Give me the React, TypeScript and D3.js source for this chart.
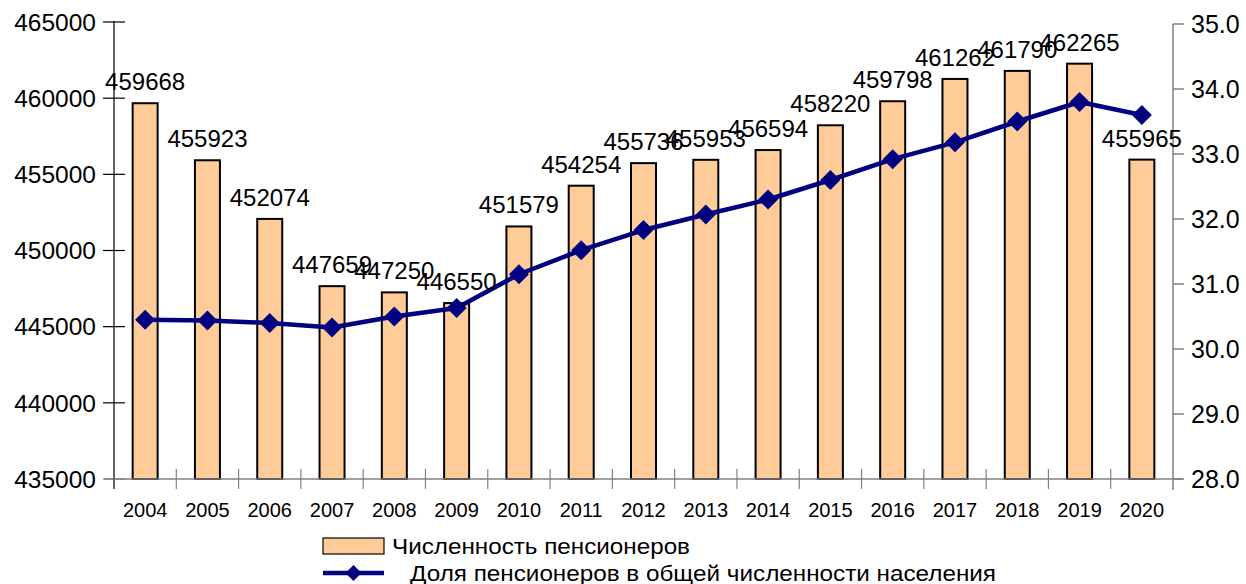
import React from 'react';
import * as d3 from 'd3';

// годы
const years = ['2004', '2005', '2006', '2007', '2008', '2009', '2010', '2011', '2012', '2013', '2014', '2015', '2016', '2017', '2018', '2019', '2020'];
// численность пенсионеров, чел.
const pensioners = [459668, 455923, 452074, 447659, 447250, 446550, 451579, 454254, 455736, 455953, 456594, 458220, 459798, 461262, 461790, 462265, 455965];
// доля пенсионеров в общей численности населения, %
const share = [30.45, 30.44, 30.4, 30.33, 30.5, 30.63, 31.15, 31.52, 31.83, 32.07, 32.3, 32.6, 32.92, 33.18, 33.5, 33.8, 33.6];

const leftTicks = [435000, 440000, 445000, 450000, 455000, 460000, 465000];
const rightTicks = [28, 29, 30, 31, 32, 33, 34, 35];

const barLabel = 'Численность пенсионеров';
const lineLabel = 'Доля пенсионеров в общей численности населения';

const W = 1246;
const H = 584;
const left = 114;
const right = 1173;
const top = 24;
const bottom = 479;
const font = '"Liberation Sans", Arial, sans-serif';

const App = () => {
    const x = d3.scaleBand().domain(years).range([left, right]).paddingInner(0).paddingOuter(0);
    const yL = d3.scaleLinear().domain([435000, 465000]).range([bottom, top - 2]);
    const yR = d3.scaleLinear().domain([28, 35]).range([bottom, top]);
    const barW = 25;
    const cx = (d: string) => (x(d) as number) + x.bandwidth() / 2;

    const line = d3.line<number>()
        .x((_, i) => cx(years[i]))
        .y(d => yR(d));

    const diamond = (px: number, py: number, r: number) =>
        `M${px},${py - r}L${px + r},${py}L${px},${py + r}L${px - r},${py}Z`;

    return (
        <div style={{ position: 'absolute', left: 0, top: 0 }}>
            <svg width={W} height={H} style={{ display: 'block', fontFamily: font }}>
                <rect width={W} height={H} fill="#fff" />

                {/* столбцы */}
                {pensioners.map((v, i) => (
                    <rect key={years[i]} x={cx(years[i]) - barW / 2} y={yL(v)} width={barW} height={bottom - yL(v)}
                        fill="#FFCC99" stroke="#000" strokeWidth={2} />
                ))}

                {/* ось X */}
                <line x1={left - 10} x2={right + 10} y1={bottom} y2={bottom} stroke="#808080" strokeWidth={1.5} />
                {years.slice(1).map(d => (
                    <line key={d} x1={x(d)} x2={x(d)} y1={bottom - 10} y2={bottom + 10} stroke="#808080" strokeWidth={1.2} />
                ))}
                {years.map(d => (
                    <text key={d} x={cx(d)} y={517} textAnchor="middle" fontSize={20} fill="#000">{d}</text>
                ))}

                {/* левая ось */}
                <line x1={left} x2={left} y1={top - 3} y2={bottom + 10} stroke="#000" strokeWidth={1.2} />
                {leftTicks.map(t => (
                    <g key={t}>
                        <line x1={left - 11} x2={left + 11} y1={yL(t)} y2={yL(t)} stroke={t === 435000 ? '#808080' : '#000'} strokeWidth={1.2} />
                        <text x={96} y={yL(t)} dy="0.36em" textAnchor="end" fontSize={24.5} fill="#000">{t}</text>
                    </g>
                ))}

                {/* правая ось */}
                <line x1={right} x2={right} y1={top} y2={bottom + 11} stroke="#808080" strokeWidth={1.5} />
                {rightTicks.map(t => (
                    <g key={t}>
                        <line x1={right} x2={right + 11} y1={yR(t)} y2={yR(t)} stroke="#808080" strokeWidth={1.5} />
                        <text x={1191} y={yR(t)} dy="0.36em" fontSize={25} fill="#000">{t.toFixed(1)}</text>
                    </g>
                ))}

                {/* линия доли */}
                <path d={line(share) as string} fill="none" stroke="#000080" strokeWidth={4.5} strokeLinejoin="round" />
                {share.map((v, i) => (
                    <path key={years[i]} d={diamond(cx(years[i]), yR(v), 10)} fill="#000080" />
                ))}

                {/* подписи значений */}
                {pensioners.map((v, i) => (
                    <text key={years[i]} x={cx(years[i])} y={yL(v) - 13} textAnchor="middle" fontSize={24} fill="#000">{v}</text>
                ))}

                {/* легенда */}
                <rect x={323} y={538} width={61} height={16} fill="#FFCC99" stroke="#000" strokeWidth={1.2} />
                <text x={392} y={554} fontSize={22} fill="#000" textLength={298} lengthAdjust="spacingAndGlyphs">{barLabel}</text>
                <line x1={323} x2={384} y1={573} y2={573} stroke="#000080" strokeWidth={4.5} />
                <path d={diamond(353.5, 573, 8)} fill="#000080" />
                <text x={410} y={581} fontSize={22} fill="#000" textLength={586} lengthAdjust="spacingAndGlyphs">{lineLabel}</text>
            </svg>
        </div>
    );
};

export default App;
